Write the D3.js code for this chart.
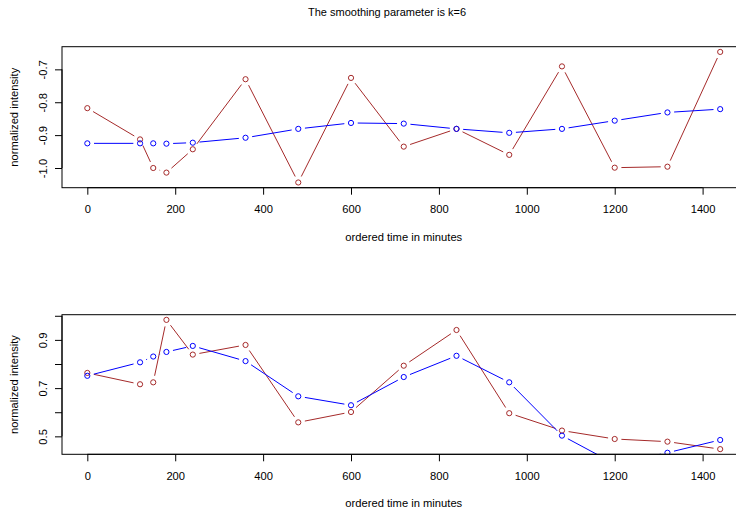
<!DOCTYPE html>
<html><head><meta charset="utf-8">
<script src="https://cdn.jsdelivr.net/npm/d3@7"></script>
<style>
body{margin:0;background:#fff}
svg text{font-family:"Liberation Sans",Arial,Helvetica,sans-serif;fill:#000}
</style>
</head><body>
<svg id="chart" width="736" height="508"></svg>
<script>
// ---- data ----
const times = [0,120,150,180,240,360,480,600,720,840,960,1080,1200,1320,1440];
const topRed  = [-0.818,-0.913,-1.000,-1.014,-0.943,-0.730,-1.044,-0.726,-0.935,-0.881,-0.960,-0.691,-0.999,-0.996,-0.647];
const topBlue = [-0.925,-0.925,-0.925,-0.926,-0.923,-0.908,-0.881,-0.863,-0.865,-0.881,-0.893,-0.881,-0.856,-0.831,-0.821];
const botRed  = [0.763,0.716,0.724,0.983,0.839,0.879,0.558,0.601,0.793,0.941,0.596,0.524,0.489,0.478,0.447];
const botBlue = [0.751,0.807,0.831,0.850,0.875,0.812,0.666,0.629,0.746,0.834,0.724,0.503,0.386,0.432,0.485];
const xTicks = [0,200,400,600,800,1000,1200,1400];
const topYTicks = [-1.0,-0.9,-0.8,-0.7];
const topYLabels = [-1.0,-0.9,-0.8,-0.7];
const botYTicks = [0.5,0.6,0.7,0.8,0.9,1.0];
const botYLabels = [0.5,0.7,0.9];
const titleText = "The smoothing parameter is k=6";
const xTitle = "ordered time in minutes";
const yTitle = "normalized intensity";
const redColor = "#A52A2A", blueColor = "#0000FF";

const svg = d3.select("#chart");
const left = 62, right = 745.5;
const xr = d3.extent(times), xe = (xr[1]-xr[0])*0.04;
const x = d3.scaleLinear().domain([xr[0]-xe, xr[1]+xe]).range([left, right]);

svg.append("text").attr("x", 387).attr("y", 16).attr("text-anchor","middle")
  .style("font-size","11px").text(titleText);

function panel(id, top, bottom, red, blue, yTicks, yLabels){
  const yr = d3.extent(red), ye = (yr[1]-yr[0])*0.04;
  const y = d3.scaleLinear().domain([yr[0]-ye, yr[1]+ye]).range([bottom, top]);
  const g = svg.append("g");
  g.append("clipPath").attr("id", id).append("rect")
    .attr("x", left).attr("y", top).attr("width", right-left).attr("height", bottom-top);
  const plot = g.append("g").attr("clip-path", `url(#${id})`);

  function series(vals, color){
    const pts = times.map((t,i)=>[x(t), y(vals[i])]);
    const gap = 6.7;
    for (let i=0;i<pts.length-1;i++){
      const [x1,y1]=pts[i],[x2,y2]=pts[i+1];
      const d=Math.hypot(x2-x1,y2-y1);
      if (d <= 2*gap) continue;
      const ux=(x2-x1)/d, uy=(y2-y1)/d;
      plot.append("line").attr("x1",x1+ux*gap).attr("y1",y1+uy*gap)
        .attr("x2",x2-ux*gap).attr("y2",y2-uy*gap)
        .attr("stroke",color).attr("stroke-width",1);
    }
    plot.selectAll(null).data(pts).enter().append("circle")
      .attr("cx",d=>d[0]).attr("cy",d=>d[1]).attr("r",2.6)
      .attr("fill","none").attr("stroke",color).attr("stroke-width",1);
  }
  series(red, redColor);
  series(blue, blueColor);

  // box
  g.append("rect").attr("x",left).attr("y",top).attr("width",right-left).attr("height",bottom-top)
    .attr("fill","none").attr("stroke","#000").attr("stroke-width",1);

  // x axis
  const xa = g.append("g").attr("transform",`translate(0,${bottom})`)
    .call(d3.axisBottom(x).tickValues(xTicks).tickSize(7).tickPadding(10.5).tickFormat(d3.format("d")));
  xa.select(".domain").remove();
  xa.selectAll("line").attr("stroke","#000");
  xa.selectAll("text").style("font-size","11.2px").attr("fill","#000");
  // R-style axis line from first to last tick
  g.append("line").attr("x1",x(xTicks[0])).attr("x2",x(xTicks[xTicks.length-1]))
    .attr("y1",bottom).attr("y2",bottom).attr("stroke","#000");

  // y axis
  const ya = g.append("g").attr("transform",`translate(${left},0)`)
    .call(d3.axisLeft(y).tickValues(yTicks).tickSize(7)
      .tickFormat(v => yLabels.some(l=>Math.abs(l-v)<1e-9) ? v.toFixed(1) : ""));
  ya.select(".domain").remove();
  ya.selectAll("line").attr("stroke","#000");
  ya.selectAll("text").style("font-size","11.2px").attr("fill","#000")
    .attr("x",null).attr("dy",null).attr("text-anchor","middle")
    .attr("transform","translate(-15.5,0) rotate(-90)");
  g.append("line").attr("x1",left).attr("x2",left)
    .attr("y1",y(yTicks[0])).attr("y2",y(yTicks[yTicks.length-1])).attr("stroke","#000");

  g.append("text").attr("x",(left+right)/2).attr("y",bottom+53).attr("text-anchor","middle")
    .style("font-size","11.2px").text(xTitle);
  g.append("text").attr("transform",`translate(17.5,${(top+bottom)/2}) rotate(-90)`)
    .attr("text-anchor","middle").style("font-size","11.2px").text(yTitle);
}

panel("clipTop", 46.7, 187.7, topRed, topBlue, topYTicks, topYLabels);
panel("clipBot", 314.7, 454.3, botRed, botBlue, botYTicks, botYLabels);
</script>
</body></html>
